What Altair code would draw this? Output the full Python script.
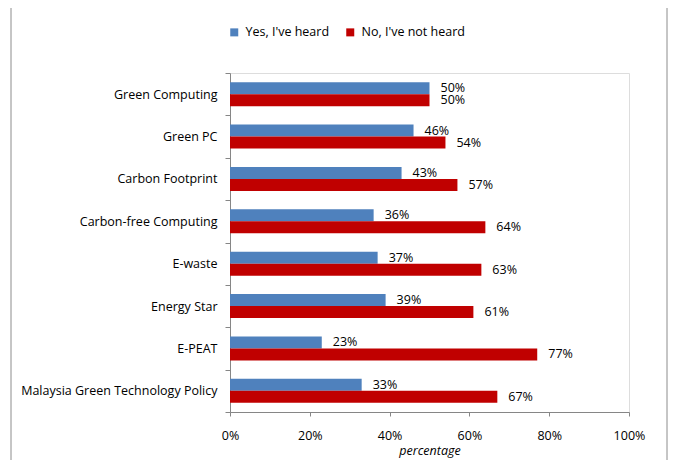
import altair as alt
import pandas as pd

categories = ["Green Computing", "Green PC", "Carbon Footprint", "Carbon-free Computing",
              "E-waste", "Energy Star", "E-PEAT", "Malaysia Green Technology Policy"]
yes_heard = [0.50, 0.46, 0.43, 0.36, 0.37, 0.39, 0.23, 0.33]
not_heard = [0.50, 0.54, 0.57, 0.64, 0.63, 0.61, 0.77, 0.67]
series = ["Yes, I've heard", "No, I've not heard"]
colors = ["#4F81BD", "#C00000"]
x_ticks = [0, 0.2, 0.4, 0.6, 0.8, 1.0]

rows = []
for c, a, b in zip(categories, yes_heard, not_heard):
    rows.append({"category": c, "series": series[0], "value": a})
    rows.append({"category": c, "series": series[1], "value": b})
df = pd.DataFrame(rows)

FONT = "Open Sans"
FS = 12.5
W, H = 399, 339

y_enc = alt.Y("category:N", sort=categories,
              scale=alt.Scale(paddingInner=0, paddingOuter=0),
              axis=alt.Axis(title=None, tickBand="extent", labelFontSize=FS, labelFont=FONT,
                            labelColor="#000000", domainColor="#868686", tickColor="#868686",
                            tickSize=5, labelPadding=8, labelLimit=300))
yoff = alt.YOffset("series:N", sort=series,
                   scale=alt.Scale(paddingInner=0, paddingOuter=0.77))
x_enc = alt.X("value:Q", scale=alt.Scale(domain=[0, 1]),
              axis=alt.Axis(values=x_ticks, format=".0%", title="percentage",
                            titleFontStyle="italic", titleFontWeight="normal",
                            titleFontSize=FS, titleFont=FONT, titleColor="#000000",
                            labelFontSize=FS, labelFont=FONT, labelColor="#000000",
                            labelFlush=False, labelPadding=13, tickSize=4,
                            domainColor="#868686", tickColor="#868686", grid=False,
                            titlePadding=3))

bars = alt.Chart(df).mark_bar(size=12).encode(
    x=x_enc, y=y_enc, yOffset=yoff,
    color=alt.Color("series:N", sort=series,
                    scale=alt.Scale(domain=series, range=colors),
                    legend=alt.Legend(title=None, orient="none", direction="horizontal",
                                      legendX=-2, legendY=-47, symbolType="square",
                                      symbolSize=64, symbolStrokeWidth=0,
                                      labelFontSize=FS, labelFont=FONT, labelColor="#000000",
                                      columnPadding=14, labelOffset=5, padding=0)),
)

labels = alt.Chart(df).mark_text(align="left", baseline="middle", dx=11,
                                 fontSize=FS, font=FONT, color="#000000").encode(
    x="value:Q", y=alt.Y("category:N", sort=categories), yOffset=yoff,
    text=alt.Text("value:Q", format=".0%"),
)

frame = alt.Chart(pd.DataFrame({"k": [0]})).mark_rect(
    fill=None, stroke="#8C8C8C", strokeWidth=1, clip=False).encode(
    x=alt.value(-219), x2=alt.value(437), y=alt.value(-66), y2=alt.value(420))

chart = alt.layer(frame, bars, labels).properties(
    width=W, height=H,
    autosize=alt.AutoSizeParams(type="none"),
    padding={"left": 222, "top": 65, "right": 39, "bottom": 48},
).configure_view(stroke=None).configure(background="white")

chart.save("out.html", embed_options={"renderer": "svg", "actions": False})
